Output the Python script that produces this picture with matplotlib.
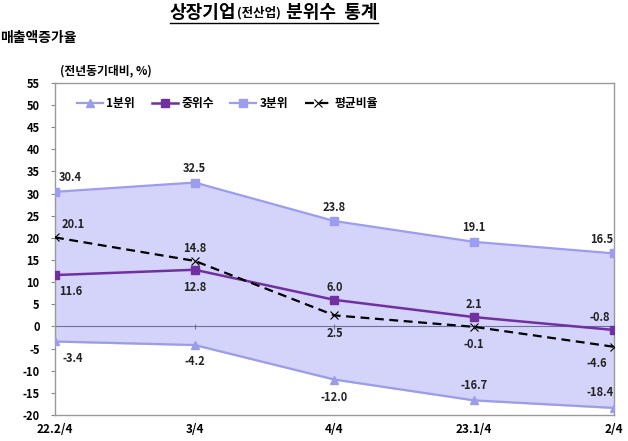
import numpy as np
import matplotlib
matplotlib.use('Agg')
import matplotlib.pyplot as plt

plt.rcParams['font.family'] = ['Noto Sans CJK KR', 'DejaVu Sans']

# 데이터
quarters = ['22.2/4', '3/4', '4/4', '23.1/4', '2/4']
q1 = [-3.4, -4.2, -12.0, -16.7, -18.4]
median = [11.6, 12.8, 6.0, 2.1, -0.8]
q3 = [30.4, 32.5, 23.8, 19.1, 16.5]
mean_ratio = [20.1, 14.8, 2.5, -0.1, -4.6]

# 라벨 위치 (dx, dy 포인트)
q1_off = [(13, -12), (0, -12), (0, -13), (0, 11), (-10, 11)]
med_off = [(11, -12), (0, -13), (0, 9), (0, 9), (-10, 9)]
q3_off = [(11, 10), (0, 10), (0, 10), (0, 10), (-9, 10)]
mean_off = [(13, 9), (0, 9), (0, -13), (0, -13), (-12, -12)]

c_q1 = '#9C9CE8'
c_med = '#7030A0'
c_q3 = '#9C9CF0'
c_fill = '#D4D4FA'

fig = plt.figure(figsize=(6.28, 4.41), dpi=100)
ax = fig.add_axes([0.0876, 0.059, 0.890, 0.753])

x = np.arange(len(quarters))
ax.fill_between(x, q1, q3, color=c_fill, zorder=1)
ax.axhline(0, color='#7070A0', lw=0.8, zorder=2)
ax.vlines(x, -0.6, 0.6, color='#7070A0', lw=0.8, zorder=2)

ax.plot(x, q1, color=c_q1, lw=1.6, marker='^', ms=6, label='1분위', zorder=3)
ax.plot(x, median, color=c_med, lw=1.8, marker='s', ms=6, label='중위수', zorder=4)
ax.plot(x, q3, color=c_q3, lw=1.6, marker='s', ms=6, label='3분위', zorder=3)
ax.plot(x, mean_ratio, color='black', lw=1.6, ls=(0, (4, 2.5)), marker='x', ms=6,
        mew=0.8, label='평균비율', zorder=5)

def put_labels(vals, offs):
    for i, v in enumerate(vals):
        ax.annotate(f'{v:.1f}', (x[i], v), xytext=offs[i], textcoords='offset points',
                    ha='center', va='center', fontsize=8, fontweight='bold', color='#222222')

put_labels(q1, q1_off)
put_labels(median, med_off)
put_labels(q3, q3_off)
put_labels(mean_ratio, mean_off)

ax.set_xlim(0, len(quarters) - 1)
ax.set_ylim(-20, 55)
ax.set_yticks(np.arange(-20, 56, 5))
ax.set_yticklabels([str(v) for v in range(-20, 56, 5)], fontsize=8, fontweight='bold')
ax.set_xticks(x)
ax.set_xticklabels(quarters, fontsize=8.5, fontweight='bold')
ax.tick_params(axis='x', length=0, pad=6)
ax.tick_params(axis='y', length=3, color='#888888', pad=8)
for s in ax.spines.values():
    s.set_color('#999999')
    s.set_linewidth(1.0)

leg = ax.legend(loc='upper left', bbox_to_anchor=(0.02, 0.99), ncol=4, frameon=False,
                handlelength=2.2, columnspacing=1.4, handletextpad=0.3,
                prop={'weight': 'bold', 'size': 8.5})

# 제목: 조각을 차례로 이어 붙임
fig.canvas.draw()
renderer = fig.canvas.get_renderer()
parts = [('상장기업', 13), ('(전산업)', 9), (' 분위수  통계', 13)]
xpos = 170
for txt, size in parts:
    t = fig.text(xpos / 628, 0.972, txt, fontsize=size, fontweight='bold',
                 ha='left', va='baseline' if False else 'center')
    bb = t.get_window_extent(renderer)
    xpos = bb.x1 + 1
fig.add_artist(plt.Line2D([170 / 628, (xpos - 1) / 628], [0.948, 0.948], color='black', lw=1.0))

fig.text(0.0, 0.913, '매출액증가율', fontsize=10, fontweight='bold', ha='left', va='center')
fig.text(0.095, 0.84, '(전년동기대비, %)', fontsize=8.5, fontweight='bold', ha='left', va='center')

fig.savefig('out.png', dpi=100)
